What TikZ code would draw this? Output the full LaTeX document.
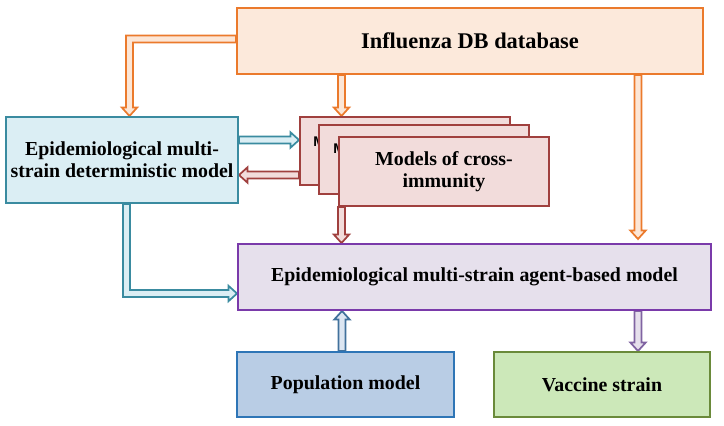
\documentclass[tikz,border=0pt]{standalone}
\usepackage{fontspec}
\setmainfont{Liberation Serif}
\setsansfont{Liberation Sans}
\usetikzlibrary{calc,backgrounds}
\definecolor{infLine}{HTML}{EB7A2C}
\definecolor{infFill}{HTML}{FCE9DB}
\definecolor{arOrFill}{HTML}{FCE6D6}
\definecolor{detLine}{HTML}{3A8BA0}
\definecolor{detFill}{HTML}{DBEEF4}
\definecolor{redLine}{HTML}{A0403E}
\definecolor{redFill}{HTML}{F2DCDB}
\definecolor{abmLine}{HTML}{7A3AAA}
\definecolor{abmFill}{HTML}{E6E0EC}
\definecolor{popLine}{HTML}{2E75B6}
\definecolor{popFill}{HTML}{B9CDE5}
\definecolor{upLine}{HTML}{41719C}
\definecolor{upFill}{HTML}{DCE6F2}
\definecolor{vacLine}{HTML}{6A8A3A}
\definecolor{vacFill}{HTML}{CCE8B9}
\definecolor{purLine}{HTML}{8064A2}
\newcommand\arsw{2.6pt}
\newcommand\arhw{5.8pt}
\newcommand\arhl{6.4pt}
\newcommand{\barrow}[3]{%
  \path (#2) coordinate (ba-s) (#3) coordinate (ba-e);
  \path ($(ba-e)!\arhl!(ba-s)$) coordinate (ba-h);
  \draw[#1] ($(ba-s)!\arsw!90:(ba-e)$) -- ($(ba-h)!\arsw!90:(ba-e)$) -- ($(ba-h)!\arhw!90:(ba-e)$) -- (ba-e) -- ($(ba-h)!\arhw!-90:(ba-e)$) -- ($(ba-h)!\arsw!-90:(ba-e)$) -- ($(ba-s)!\arsw!-90:(ba-e)$) -- cycle;
}
\tikzset{
  box/.style={draw, line width=1.5pt, inner sep=0pt, align=center,
    font=\fontsize{14.9}{16.5}\selectfont\bfseries},
  orar/.style={draw=infLine, fill=arOrFill, line width=1.3pt, miter limit=10},
  blar/.style={draw=detLine, fill=detFill, line width=1.3pt, miter limit=10},
  rdar/.style={draw=redLine, fill=redFill, line width=1.3pt, miter limit=10},
  upar/.style={draw=upLine, fill=upFill, line width=1.3pt, miter limit=10},
  puar/.style={draw=purLine, fill=abmFill, line width=1.3pt, miter limit=10},
  hidtext/.style={anchor=base west, inner sep=0pt, font=\sffamily\bfseries\fontsize{10.5}{12}\selectfont}
}
\begin{document}
\begin{tikzpicture}[x=0.75pt,y=-0.75pt]
\useasboundingbox (0,0) rectangle (724,425);
% boxes
\node[box, draw=infLine, fill=infFill, minimum width=349.5pt, minimum height=49.5pt,
  font=\fontsize{16.8}{19}\selectfont\bfseries] (inf) at (470,41) {Influenza DB database};
\node[box, draw=detLine, fill=detFill, minimum width=174pt, minimum height=64.5pt] (det) at (122,160)
  {Epidemiological multi-\\strain deterministic model};
\node[box, draw=redLine, fill=redFill, minimum width=157.5pt, minimum height=51pt] (r1) at (405,151) {};
\node[hidtext] (m1) at (313,146) {M};
\node[box, draw=redLine, fill=redFill, minimum width=157.5pt, minimum height=51.75pt] (r2) at (424,159.5) {};
\node[hidtext] (m2) at (333,153) {M};
\node[box, draw=redLine, fill=redFill, minimum width=157.5pt, minimum height=51.75pt] (r3) at (444,171.5)
  {Models of cross-\\immunity};
\node[box, draw=abmLine, fill=abmFill, minimum width=354.75pt, minimum height=49.5pt] (abm) at (474.5,277)
  {Epidemiological multi-strain agent-based model};
\node[box, draw=popLine, fill=popFill, minimum width=162.75pt, minimum height=48.75pt] (pop) at (345.5,384.5)
  {Population model};
\node[box, draw=vacLine, fill=vacFill, minimum width=162pt, minimum height=48.75pt] (vac) at (602,384.5)
  {Vaccine strain};
% reference coordinates
\coordinate (X341) at (341.5,0);
\coordinate (X342) at (342,0);
\coordinate (X638) at (638,0);
\coordinate (X129) at (129.5,0);
\coordinate (X126) at (126.5,0);
\coordinate (Y39) at (0,39);
\coordinate (Y140) at (0,140);
\coordinate (Y175) at (0,175);
\coordinate (Y293) at (0,293.5);
\begin{pgfonlayer}{background}
% orange elbow: database -> deterministic model
\coordinate (o-s) at (inf.west |- Y39);
\coordinate (o-c) at (X129 |- Y39);
\coordinate (o-e) at (det.north -| X129);
\draw[orar] ($(o-s)+(0,-3.4)$) -- ($(o-c)+(-3.4,-3.4)$) -- ($(o-e)+(-3.4,-8.5)$) -- ($(o-e)+(-7.7,-8.5)$)
  -- (o-e) -- ($(o-e)+(7.7,-8.5)$) -- ($(o-e)+(3.4,-8.5)$) -- ($(o-c)+(3.4,3.4)$) -- ($(o-s)+(0,3.4)$) -- cycle;
% orange straight arrows
\barrow{orar}{inf.south -| X341}{r1.north -| X341}
\coordinate (o2e) at ($(abm.north -| X638)+(0,-4)$);
\barrow{orar}{inf.south -| X638}{o2e}
% det <-> cross-immunity
\barrow{blar}{det.east |- Y140}{r1.west |- Y140}
\barrow{rdar}{r1.west |- Y175}{det.east |- Y175}
% blue elbow: deterministic -> agent-based
\coordinate (b-s) at (det.south -| X126);
\coordinate (b-c) at (X126 |- Y293);
\coordinate (b-e) at (abm.west |- Y293);
\draw[blar] ($(b-s)+(-3.4,0)$) -- ($(b-c)+(-3.4,3.4)$) -- ($(b-e)+(-8.5,3.4)$) -- ($(b-e)+(-8.5,7.7)$)
  -- (b-e) -- ($(b-e)+(-8.5,-7.7)$) -- ($(b-e)+(-8.5,-3.4)$) -- ($(b-c)+(3.4,-3.4)$) -- ($(b-s)+(3.4,0)$) -- cycle;
% cross-immunity -> agent-based
\barrow{rdar}{r3.south -| X341}{abm.north -| X341}
% population -> agent-based
\barrow{upar}{pop.north -| X342}{abm.south -| X342}
% agent-based -> vaccine
\barrow{puar}{abm.south -| X638}{vac.north -| X638}
\end{pgfonlayer}
\end{tikzpicture}
\end{document}
